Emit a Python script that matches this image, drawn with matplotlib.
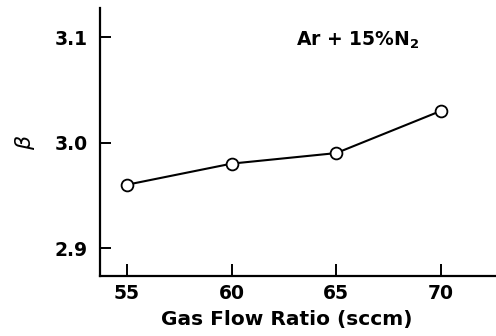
import matplotlib
matplotlib.use("Agg")
import matplotlib.pyplot as plt

flow_ratio = [55, 60, 65, 70]
beta = [2.96, 2.98, 2.99, 3.03]
x_ticks = [55, 60, 65, 70]
y_ticks = [2.9, 3.0, 3.1]

plt.rcParams.update({
    "font.family": "DejaVu Sans",
    "font.weight": "bold",
    "axes.labelweight": "bold",
    "font.size": 13.5,
})

fig = plt.figure(figsize=(4.96, 3.36), dpi=100)
fig.patch.set_facecolor("white")
ax = fig.add_axes([0.2016, 0.1786, 0.7984, 0.7976])

ax.plot(flow_ratio, beta, color="black", linewidth=1.5, marker="o",
        markersize=8.5, markerfacecolor="white", markeredgecolor="black",
        markeredgewidth=1.3, zorder=3, clip_on=False)

ax.set_xlim(53.71, 72.63)
ax.set_ylim(2.8735, 3.1275)
ax.set_xticks(x_ticks)
ax.set_yticks(y_ticks)
ax.set_yticklabels([f"{v:.1f}" for v in y_ticks])

ax.spines["top"].set_visible(False)
ax.spines["right"].set_visible(False)
ax.spines["left"].set_linewidth(1.6)
ax.spines["bottom"].set_linewidth(1.6)
ax.tick_params(axis="y", direction="in", length=8, width=1.4, pad=9)
ax.tick_params(axis="x", direction="in", length=8.5, width=1.4, pad=6)

ax.set_xlabel("Gas Flow Ratio (sccm)", fontsize=14.5)
ax.xaxis.set_label_coords(0.472, -0.127)

fig.text(0.05, 0.575, "β", rotation=90, ha="center", va="center",
         fontsize=16, fontweight="normal", style="italic")

ax.text(0.651, 0.88, r"Ar + 15%N$_\mathbf{2}$", transform=ax.transAxes,
        ha="center", va="center", fontsize=13.5)

fig.savefig("out.png", dpi=100, facecolor="white")
